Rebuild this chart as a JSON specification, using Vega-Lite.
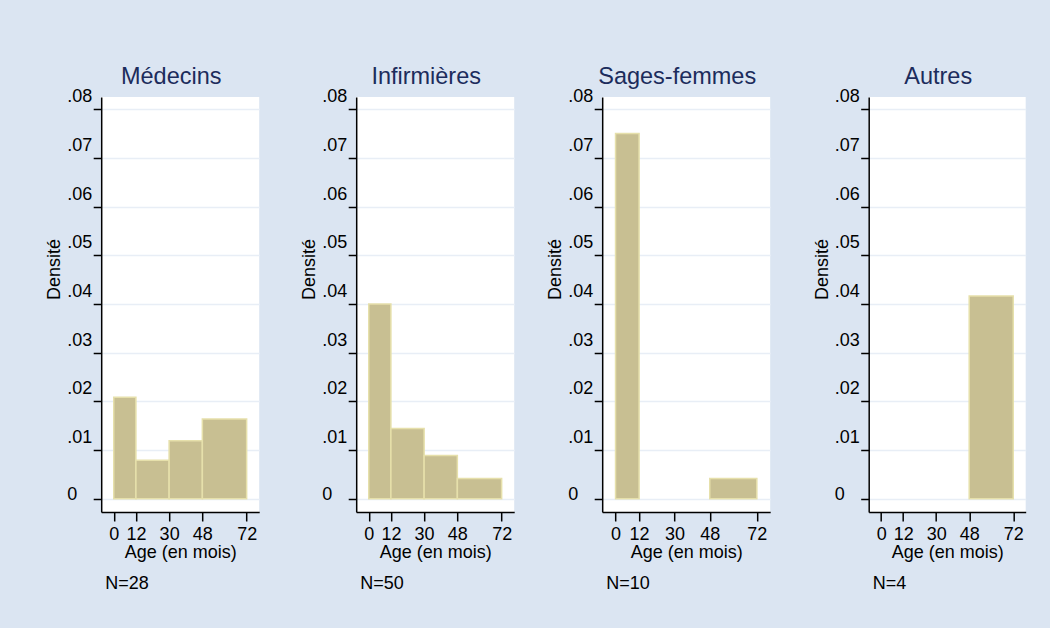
{
  "$schema": "https://vega.github.io/schema/vega-lite/v6.json",
  "background": "#dbe5f2",
  "padding": {"left": 45.2, "top": 65, "right": 25, "bottom": 40},
  "config": {
    "font": "Liberation Sans",
    "view": {"stroke": null, "fill": "white"},
    "axis": {
      "domainColor": "black", "domainWidth": 1.5,
      "tickColor": "black", "tickWidth": 1.5,
      "labelColor": "black", "titleColor": "black",
      "labelFontSize": 18, "titleFontSize": 18, "titleFontWeight": "normal",
      "gridColor": "#e8eef6", "gridWidth": 1.5,
      "labelOverlap": false, "labelFlush": false
    },
    "title": {"fontSize": 23.5, "fontWeight": "normal", "color": "#1c2c5c"}
  },
  "datasets": {
    "hist": [
      {"group": "Médecins", "start": 0, "end": 12, "density": 0.020833},
      {"group": "Médecins", "start": 12, "end": 30, "density": 0.007937},
      {"group": "Médecins", "start": 30, "end": 48, "density": 0.011905},
      {"group": "Médecins", "start": 48, "end": 72, "density": 0.016369},
      {"group": "Infirmières", "start": 0, "end": 12, "density": 0.04},
      {"group": "Infirmières", "start": 12, "end": 30, "density": 0.014444},
      {"group": "Infirmières", "start": 30, "end": 48, "density": 0.008889},
      {"group": "Infirmières", "start": 48, "end": 72, "density": 0.004167},
      {"group": "Sages-femmes", "start": 0, "end": 12, "density": 0.075},
      {"group": "Sages-femmes", "start": 48, "end": 72, "density": 0.004167},
      {"group": "Autres", "start": 48, "end": 72, "density": 0.041667}
    ]
  },
  "hconcat": [
    {
      "spacing": 41,
      "hconcat": [
        {
          "title": {"text": "N=28", "orient": "bottom", "anchor": "start", "frame": "group", "fontSize": 18, "color": "black", "offset": 13, "dx": 4},
          "vconcat": [
            {
              "title": {"text": "Médecins", "anchor": "middle", "frame": "group", "dx": -9, "offset": -1},
              "width": 158, "height": 415,
              "data": {"name": "hist"},
              "transform": [{"filter": "datum.group == 'Médecins'"}],
              "mark": {"type": "rect", "fill": "#c8bf92", "stroke": "#e6e0ab", "strokeWidth": 1.5},
              "encoding": {
                "x": {"field": "start", "type": "quantitative", "scale": {"domain": [-6.8, 78.8], "nice": false, "zero": false},
                  "axis": {"values": [0, 12, 30, 48, 72], "grid": false, "tickSize": 9, "labelPadding": 5, "title": "Age (en mois)", "titlePadding": 0}},
                "x2": {"field": "end"},
                "y": {"field": "density", "type": "quantitative", "scale": {"domain": [-0.0027, 0.0825], "nice": false, "zero": false},
                  "axis": {"values": [0, 0.01, 0.02, 0.03, 0.04, 0.05, 0.06, 0.07, 0.08], "grid": true, "tickSize": 8, "labelAlign": "left", "labelPadding": 26.5,
                    "labelOffset": {"condition": {"test": "datum.value == 0", "value": -4}, "value": -12.5},
                    "labelExpr": "datum.value == 0 ? '0' : '.0' + round(datum.value * 100)", "title": "Densité", "titlePadding": 3, "titleY": 172}},
                "y2": {"datum": 0}
              }
            }
          ]
        },
        {
          "title": {"text": "N=50", "orient": "bottom", "anchor": "start", "frame": "group", "fontSize": 18, "color": "black", "offset": 13, "dx": 4},
          "vconcat": [
            {
              "title": {"text": "Infirmières", "anchor": "middle", "frame": "group", "dx": -9, "offset": -1},
              "width": 158, "height": 415,
              "data": {"name": "hist"},
              "transform": [{"filter": "datum.group == 'Infirmières'"}],
              "mark": {"type": "rect", "fill": "#c8bf92", "stroke": "#e6e0ab", "strokeWidth": 1.5},
              "encoding": {
                "x": {"field": "start", "type": "quantitative", "scale": {"domain": [-6.8, 78.8], "nice": false, "zero": false},
                  "axis": {"values": [0, 12, 30, 48, 72], "grid": false, "tickSize": 9, "labelPadding": 5, "title": "Age (en mois)", "titlePadding": 0}},
                "x2": {"field": "end"},
                "y": {"field": "density", "type": "quantitative", "scale": {"domain": [-0.0027, 0.0825], "nice": false, "zero": false},
                  "axis": {"values": [0, 0.01, 0.02, 0.03, 0.04, 0.05, 0.06, 0.07, 0.08], "grid": true, "tickSize": 8, "labelAlign": "left", "labelPadding": 26.5,
                    "labelOffset": {"condition": {"test": "datum.value == 0", "value": -4}, "value": -12.5},
                    "labelExpr": "datum.value == 0 ? '0' : '.0' + round(datum.value * 100)", "title": "Densité", "titlePadding": 3, "titleY": 172}},
                "y2": {"datum": 0}
              }
            }
          ]
        }
      ]
    },
    {
      "spacing": 42.5,
      "hconcat": [
        {
          "title": {"text": "N=10", "orient": "bottom", "anchor": "start", "frame": "group", "fontSize": 18, "color": "black", "offset": 13, "dx": 4},
          "vconcat": [
            {
              "title": {"text": "Sages-femmes", "anchor": "middle", "frame": "group", "dx": -9, "offset": -1},
              "width": 168, "height": 415,
              "data": {"name": "hist"},
              "transform": [{"filter": "datum.group == 'Sages-femmes'"}],
              "mark": {"type": "rect", "fill": "#c8bf92", "stroke": "#e6e0ab", "strokeWidth": 1.5},
              "encoding": {
                "x": {"field": "start", "type": "quantitative", "scale": {"domain": [-6.8, 78.8], "nice": false, "zero": false},
                  "axis": {"values": [0, 12, 30, 48, 72], "grid": false, "tickSize": 9, "labelPadding": 5, "title": "Age (en mois)", "titlePadding": 0}},
                "x2": {"field": "end"},
                "y": {"field": "density", "type": "quantitative", "scale": {"domain": [-0.0027, 0.0825], "nice": false, "zero": false},
                  "axis": {"values": [0, 0.01, 0.02, 0.03, 0.04, 0.05, 0.06, 0.07, 0.08], "grid": true, "tickSize": 8, "labelAlign": "left", "labelPadding": 26.5,
                    "labelOffset": {"condition": {"test": "datum.value == 0", "value": -4}, "value": -12.5},
                    "labelExpr": "datum.value == 0 ? '0' : '.0' + round(datum.value * 100)", "title": "Densité", "titlePadding": 3, "titleY": 172}},
                "y2": {"datum": 0}
              }
            }
          ]
        },
        {
          "title": {"text": "N=4", "orient": "bottom", "anchor": "start", "frame": "group", "fontSize": 18, "color": "black", "offset": 13, "dx": 4},
          "vconcat": [
            {
              "title": {"text": "Autres", "anchor": "middle", "frame": "group", "dx": -9, "offset": -1},
              "width": 157, "height": 415,
              "data": {"name": "hist"},
              "transform": [{"filter": "datum.group == 'Autres'"}],
              "mark": {"type": "rect", "fill": "#c8bf92", "stroke": "#e6e0ab", "strokeWidth": 1.5},
              "encoding": {
                "x": {"field": "start", "type": "quantitative", "scale": {"domain": [-6.8, 78.8], "nice": false, "zero": false},
                  "axis": {"values": [0, 12, 30, 48, 72], "grid": false, "tickSize": 9, "labelPadding": 5, "title": "Age (en mois)", "titlePadding": 0}},
                "x2": {"field": "end"},
                "y": {"field": "density", "type": "quantitative", "scale": {"domain": [-0.0027, 0.0825], "nice": false, "zero": false},
                  "axis": {"values": [0, 0.01, 0.02, 0.03, 0.04, 0.05, 0.06, 0.07, 0.08], "grid": true, "tickSize": 8, "labelAlign": "left", "labelPadding": 26.5,
                    "labelOffset": {"condition": {"test": "datum.value == 0", "value": -4}, "value": -12.5},
                    "labelExpr": "datum.value == 0 ? '0' : '.0' + round(datum.value * 100)", "title": "Densité", "titlePadding": 3, "titleY": 172}},
                "y2": {"datum": 0}
              }
            }
          ]
        }
      ]
    }
  ],
  "spacing": 32
}
